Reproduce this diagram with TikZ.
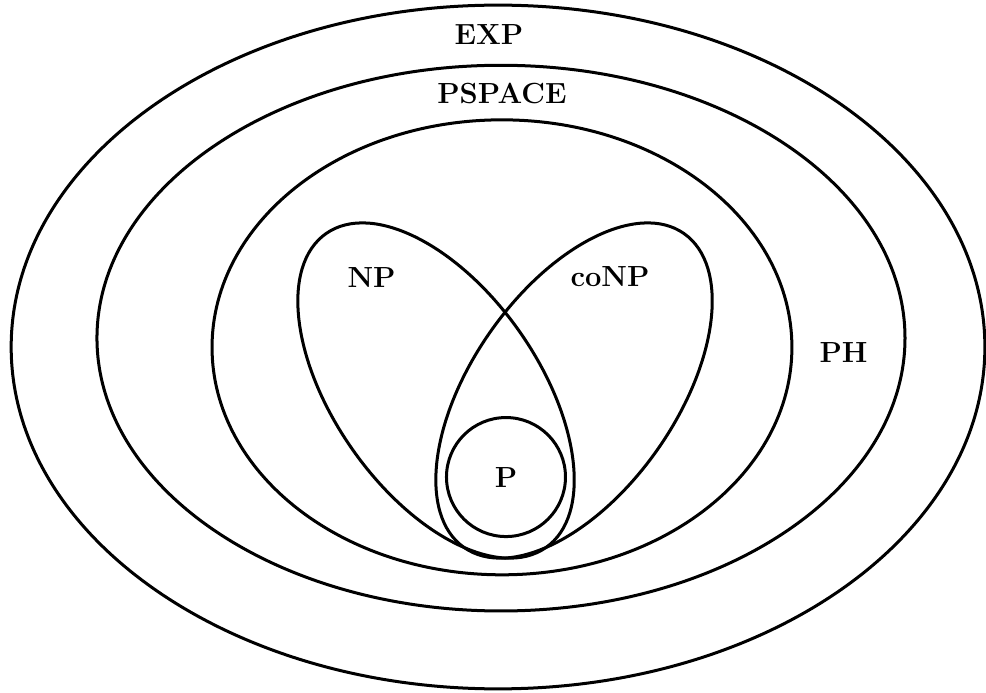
\documentclass[tikz,border=0pt]{standalone}
\usepackage{tikz}
\usetikzlibrary{shapes.geometric}

\begin{document}
\begin{tikzpicture}[
  region/.style = {ellipse, draw, line width=1.3pt, inner sep=0pt},
  ball/.style   = {circle, draw, line width=1.3pt, inner sep=0pt},
  tag/.style    = {font=\fontsize{12.6pt}{15pt}\selectfont\bfseries},
]
  \useasboundingbox (-7.605,-5.263) rectangle (7.392,5.263);

  % Nested classes
  \node[region, minimum width=14.81cm, minimum height=10.40cm] (exp)    at (-0.03,-0.015) {};
  \node[region, minimum width=12.29cm, minimum height=8.30cm]  (pspace) at (0.015,0.12)   {};
  \node[region, minimum width=8.82cm,  minimum height=6.92cm]  (ph)     at (0.03,-0.02)   {};

  % NP and coNP
  \node[region, minimum width=5.83cm, minimum height=3.11cm, rotate=-55] (np)   at (-0.973,-0.677) {};
  \node[region, minimum width=5.83cm, minimum height=3.11cm, rotate=55]  (conp) at (1.126,-0.677)  {};

  % P
  \node[ball, minimum size=1.81cm] (p) at (0.091,-1.993) {};

  % Labels
  \node[tag] (explbl)    at (-0.167,4.738) {EXP};
  \node[tag] (pspacelbl) at (0.030,3.848)  {PSPACE};
  \node[tag] (phlbl)     at (5.225,-0.106) {PH};
  \node[tag] (nplbl)     at (-1.954,1.049) {NP};
  \node[tag] (conplbl)   at (1.673,1.049)  {coNP};
  \node[tag] (plbl)      at (p)            {P};
\end{tikzpicture}
\end{document}
